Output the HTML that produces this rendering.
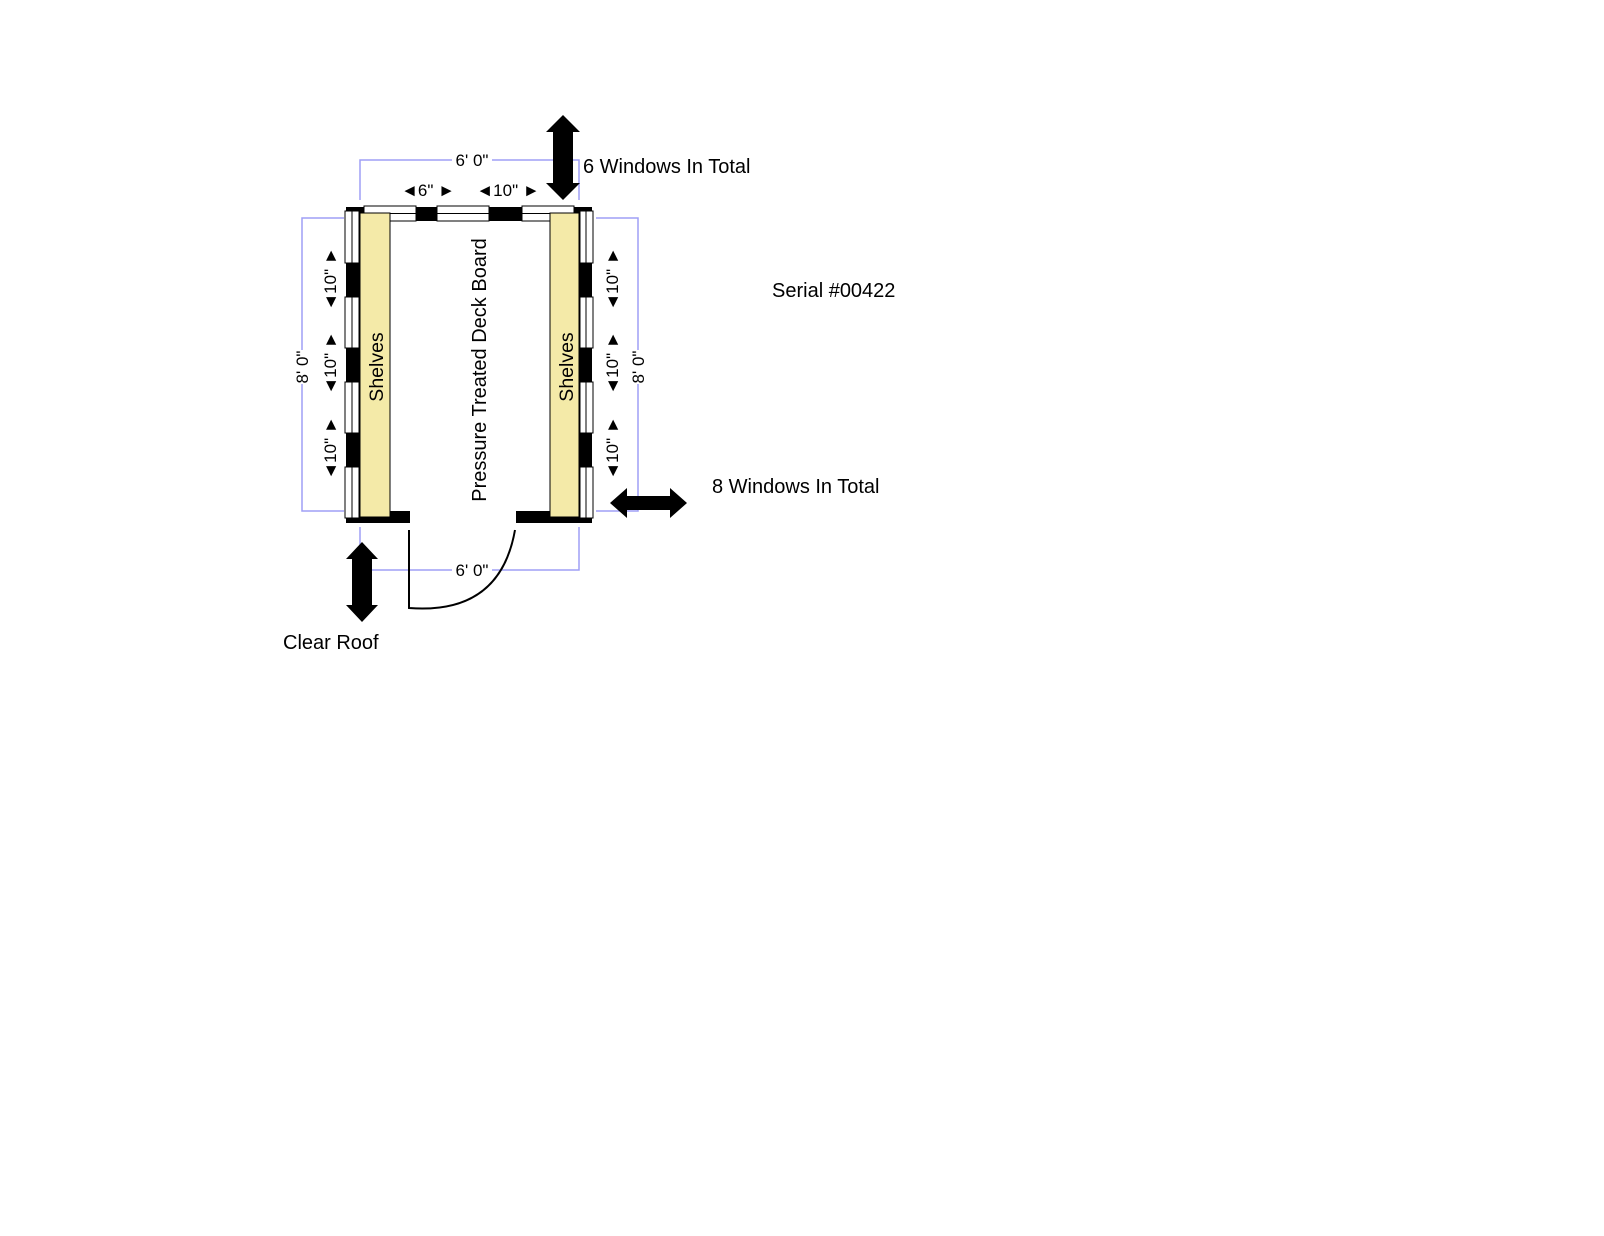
<!DOCTYPE html>
<html><head><meta charset="utf-8"><style>
html,body{margin:0;padding:0;background:#fff;}
svg{display:block;}
text{font-family:"Liberation Sans",Arial,sans-serif;fill:#000;}
</style></head><body>
<svg width="1604" height="1236" viewBox="0 0 1604 1236" xmlns="http://www.w3.org/2000/svg">
<g stroke="#9f9ff5" stroke-width="1.5" fill="none">
<polyline points="360,200 360,160 452,160"/>
<polyline points="492,160 579,160 579,200"/>
<polyline points="344,218 302,218 302,350"/>
<polyline points="302,384 302,511 344,511"/>
<polyline points="596,218 638,218 638,350"/>
<polyline points="638,384 638,511 596,511"/>
<polyline points="360,527 360,570 452,570"/>
<polyline points="492,570 579,570 579,527"/>
</g>
<g fill="#000">
<rect x="348" y="207" width="244" height="14"/>
<rect x="346" y="207" width="14" height="316"/>
<rect x="579" y="207" width="13" height="316"/>
<rect x="348" y="511" width="62" height="12"/>
<rect x="516" y="511" width="76" height="12"/>
</g>
<g fill="#fff" stroke="#000" stroke-width="1">
<rect x="364" y="206" width="52" height="15"/><line x1="364" y1="213.5" x2="416" y2="213.5"/>
<rect x="437" y="206" width="52" height="15"/><line x1="437" y1="213.5" x2="489" y2="213.5"/>
<rect x="522" y="206" width="52" height="15"/><line x1="522" y1="213.5" x2="574" y2="213.5"/>
</g>
<rect x="360" y="213" width="30" height="304" fill="#f4eaa8" stroke="#000" stroke-width="1"/>
<rect x="550" y="213" width="29" height="304" fill="#f4eaa8" stroke="#000" stroke-width="1"/>
<g fill="#fff" stroke="#000" stroke-width="1">
<rect x="345" y="211" width="14" height="52"/><line x1="352" y1="211" x2="352" y2="263"/>
<rect x="345" y="297" width="14" height="51"/><line x1="352" y1="297" x2="352" y2="348"/>
<rect x="345" y="382" width="14" height="51"/><line x1="352" y1="382" x2="352" y2="433"/>
<rect x="345" y="467" width="14" height="51"/><line x1="352" y1="467" x2="352" y2="518"/>
<rect x="580" y="211" width="13" height="52"/><line x1="586" y1="211" x2="586" y2="263"/>
<rect x="580" y="297" width="13" height="51"/><line x1="586" y1="297" x2="586" y2="348"/>
<rect x="580" y="382" width="13" height="51"/><line x1="586" y1="382" x2="586" y2="433"/>
<rect x="580" y="467" width="13" height="51"/><line x1="586" y1="467" x2="586" y2="518"/>
</g>
<path d="M409,530 L409,608 Q500,615 515,530" fill="none" stroke="#000" stroke-width="2"/>
<g fill="#000">
<polygon points="563,115 580,132 573,132 573,183 580,183 563,200 546,183 553,183 553,132 546,132"/>
<polygon points="362,542 378,559 372,559 372,605 378,605 362,622 346,605 352,605 352,559 346,559"/>
<polygon points="610,503 627,488 627,496 670,496 670,488 687,503 670,518 670,510 627,510 627,518"/>
</g>
<g font-size="17" text-anchor="middle">
<text x="472" y="166">6' 0"</text>
<text x="472" y="576">6' 0"</text>
<text x="428" y="196">◄6" ►</text>
<text x="508" y="196">◄10" ►</text>
<g transform="translate(302,367) rotate(-90)"><text x="0" y="6">8' 0"</text></g>
<g transform="translate(638,367) rotate(-90)"><text x="0" y="6">8' 0"</text></g>
<g transform="translate(330,279) rotate(-90)"><text x="0" y="6">◄10" ►</text></g>
<g transform="translate(330,363) rotate(-90)"><text x="0" y="6">◄10" ►</text></g>
<g transform="translate(330,448) rotate(-90)"><text x="0" y="6">◄10" ►</text></g>
<g transform="translate(612,279) rotate(-90)"><text x="0" y="6">◄10" ►</text></g>
<g transform="translate(612,363) rotate(-90)"><text x="0" y="6">◄10" ►</text></g>
<g transform="translate(612,448) rotate(-90)"><text x="0" y="6">◄10" ►</text></g>
</g>
<g font-size="19.5" text-anchor="middle">
<g transform="translate(376,367) rotate(-90)"><text x="0" y="7">Shelves</text></g>
<g transform="translate(566,367) rotate(-90)"><text x="0" y="7">Shelves</text></g>
<g transform="translate(479,370) rotate(-90)"><text x="0" y="7" font-size="20">Pressure Treated Deck Board</text></g>
</g>
<g font-size="20">
<text x="583" y="173">6 Windows In Total</text>
<text x="772" y="297">Serial #00422</text>
<text x="712" y="493">8 Windows In Total</text>
<text x="283" y="649">Clear Roof</text>
</g>
</svg>
</body></html>
